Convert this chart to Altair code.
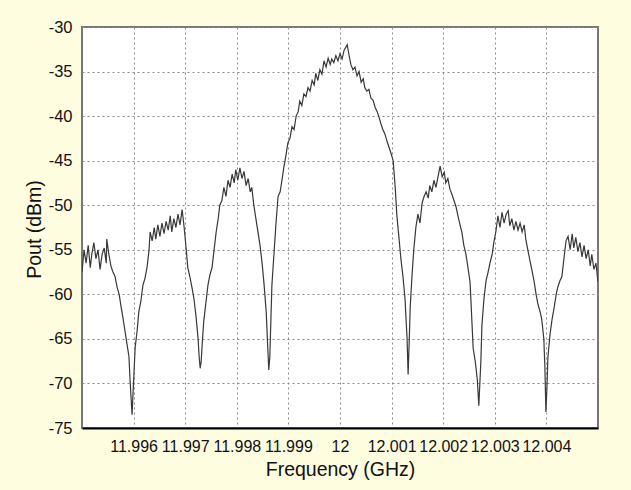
import altair as alt
import pandas as pd

# Frequency (GHz) and output power (dBm)
freq_ghz = [
    11.99500, 11.99504, 11.99508, 11.99512, 11.99516, 11.99519, 11.99523, 11.99527, 11.99531, 11.99535,
    11.99539, 11.99543, 11.99547, 11.99548, 11.99552, 11.99556, 11.99560, 11.99564, 11.99568, 11.99572,
    11.99576, 11.99579, 11.99583, 11.99587, 11.99591, 11.99593, 11.99595, 11.99597, 11.99599, 11.99601,
    11.99603, 11.99607, 11.99610, 11.99614, 11.99618, 11.99622, 11.99626, 11.99630, 11.99632, 11.99636,
    11.99640, 11.99643, 11.99647, 11.99651, 11.99655, 11.99659, 11.99663, 11.99667, 11.99671, 11.99674,
    11.99678, 11.99682, 11.99686, 11.99690, 11.99694, 11.99698, 11.99702, 11.99705, 11.99709, 11.99713,
    11.99717, 11.99721, 11.99725, 11.99727, 11.99729, 11.99731, 11.99733, 11.99736, 11.99740, 11.99744,
    11.99748, 11.99752, 11.99756, 11.99760, 11.99764, 11.99767, 11.99771, 11.99775, 11.99779, 11.99783,
    11.99787, 11.99791, 11.99795, 11.99798, 11.99802, 11.99806, 11.99810, 11.99814, 11.99818, 11.99822,
    11.99826, 11.99829, 11.99833, 11.99837, 11.99841, 11.99845, 11.99849, 11.99853, 11.99857, 11.99860,
    11.99862, 11.99864, 11.99866, 11.99868, 11.99872, 11.99876, 11.99880, 11.99884, 11.99888, 11.99891,
    11.99895, 11.99899, 11.99903, 11.99907, 11.99911, 11.99915, 11.99919, 11.99922, 11.99926, 11.99930,
    11.99934, 11.99938, 11.99942, 11.99946, 11.99950, 11.99953, 11.99957, 11.99961, 11.99965, 11.99969,
    11.99973, 11.99977, 11.99981, 11.99984, 11.99988, 11.99992, 11.99996, 12.00000, 12.00004, 12.00008,
    12.00012, 12.00014, 12.00017, 12.00021, 12.00025, 12.00029, 12.00033, 12.00037, 12.00041, 12.00045,
    12.00048, 12.00052, 12.00056, 12.00060, 12.00064, 12.00068, 12.00072, 12.00076, 12.00079, 12.00083,
    12.00087, 12.00091, 12.00095, 12.00099, 12.00103, 12.00107, 12.00110, 12.00114, 12.00118, 12.00122,
    12.00126, 12.00130, 12.00132, 12.00134, 12.00136, 12.00140, 12.00143, 12.00147, 12.00151, 12.00155,
    12.00159, 12.00163, 12.00167, 12.00171, 12.00174, 12.00178, 12.00182, 12.00186, 12.00190, 12.00194,
    12.00198, 12.00202, 12.00205, 12.00209, 12.00213, 12.00217, 12.00221, 12.00225, 12.00229, 12.00233,
    12.00236, 12.00240, 12.00244, 12.00248, 12.00252, 12.00254, 12.00256, 12.00258, 12.00262, 12.00266,
    12.00269, 12.00271, 12.00273, 12.00275, 12.00279, 12.00283, 12.00287, 12.00291, 12.00295, 12.00298,
    12.00302, 12.00306, 12.00310, 12.00314, 12.00318, 12.00322, 12.00326, 12.00329, 12.00333, 12.00337,
    12.00341, 12.00345, 12.00349, 12.00353, 12.00357, 12.00360, 12.00364, 12.00368, 12.00372, 12.00376,
    12.00380, 12.00384, 12.00388, 12.00391, 12.00395, 12.00397, 12.00399, 12.00401, 12.00403, 12.00407,
    12.00411, 12.00415, 12.00419, 12.00422, 12.00426, 12.00430, 12.00434, 12.00438, 12.00442, 12.00446,
    12.00450, 12.00453, 12.00457, 12.00461, 12.00465, 12.00469, 12.00473, 12.00477, 12.00481, 12.00485,
    12.00488, 12.00492, 12.00496, 12.00500,
]

pout_dbm = [
    -57.5, -55.0, -56.5, -54.5, -57.0, -55.5, -54.2, -56.0, -55.0, -57.2,
    -55.5, -54.8, -56.5, -53.8, -55.5, -56.8, -57.5, -58.0, -59.2, -60.0,
    -61.5, -62.5, -64.0, -65.5, -67.0, -69.5, -71.5, -73.5, -71.0, -68.5,
    -66.0, -64.0, -62.0, -60.8, -59.0, -58.2, -57.0, -55.0, -53.0, -54.0,
    -52.5, -53.8, -52.2, -53.5, -52.0, -53.2, -51.8, -52.8, -51.2, -53.0,
    -51.5, -52.5, -51.0, -52.2, -50.5, -52.5, -55.0, -57.0, -58.0, -59.2,
    -60.5, -62.5, -65.0, -67.0, -68.3, -67.5, -65.5, -63.0, -61.0, -59.0,
    -57.8, -57.0, -55.0, -53.0, -51.5, -50.0, -49.5, -48.0, -49.0, -47.2,
    -48.0, -46.5, -47.5, -46.0, -47.2, -45.8, -47.0, -46.2, -47.8, -47.0,
    -48.5, -48.0, -50.0, -51.5, -53.0, -54.5, -56.5, -59.0, -62.0, -66.0,
    -68.5, -67.0, -63.0, -59.0, -55.5, -52.0, -49.0, -48.5, -47.0, -45.8,
    -44.5, -43.0, -42.5, -41.2, -41.5, -40.0, -39.5, -38.3, -38.8, -37.5,
    -37.8, -36.8, -37.2, -36.0, -36.5, -35.2, -36.0, -34.8, -35.3, -33.8,
    -34.5, -33.5, -34.2, -33.6, -34.0, -33.2, -33.8, -33.0, -33.6, -32.6,
    -32.2, -32.0, -33.0, -34.2, -34.8, -34.5, -35.5, -35.0, -36.2, -35.8,
    -36.8, -37.2, -37.0, -38.0, -38.2, -39.0, -39.5, -40.2, -40.8, -41.5,
    -42.0, -42.8, -43.5, -44.2, -45.0, -48.0, -51.0, -53.5, -56.0, -58.0,
    -60.5, -65.0, -69.0, -65.5, -61.5, -57.5, -55.0, -52.5, -51.0, -52.0,
    -49.8, -49.0, -48.5, -49.2, -47.8, -48.5, -47.2, -48.0, -46.8, -45.6,
    -46.8, -46.3, -47.5, -47.0, -48.2, -48.8, -49.5, -50.2, -51.3, -52.3,
    -53.0, -54.5, -55.5, -57.0, -58.6, -61.0, -63.5, -66.0, -67.5, -69.5,
    -72.5, -70.0, -67.5, -63.5, -60.5, -58.5, -57.5, -56.4, -55.5, -54.2,
    -53.0, -51.2, -52.5, -50.8, -52.0, -51.0, -50.6, -52.3, -51.5, -52.8,
    -51.8, -52.8, -52.0, -53.0, -52.2, -53.8, -55.0, -56.2, -57.3, -58.5,
    -60.0, -61.2, -62.0, -62.8, -65.0, -68.0, -73.2, -70.5, -67.0, -64.5,
    -62.8, -61.5, -60.0, -59.2, -58.5, -58.0, -56.0, -54.0, -53.5, -55.0,
    -53.2, -54.8, -53.6, -55.2, -54.2, -55.8, -54.5, -56.0, -55.0, -56.8,
    -55.5, -57.2, -56.5, -58.6,
]

x_ticks = [11.996, 11.997, 11.998, 11.999, 12.0, 12.001, 12.002, 12.003, 12.004]
y_ticks = [-75, -70, -65, -60, -55, -50, -45, -40, -35, -30]

df = pd.DataFrame({"freq": freq_ghz, "pout": pout_dbm})

FONT = "Liberation Sans"

line = alt.Chart(df).mark_line(color="#383838", strokeWidth=1.2, clip=True).encode(
    x=alt.X(
        "freq:Q",
        scale=alt.Scale(domain=[11.995, 12.005], nice=False, zero=False),
        axis=alt.Axis(
            values=x_ticks,
            labelExpr="format(datum.value, '.3~f')",
            title="Frequency (GHz)",
            grid=True,
            gridColor="#8a8a8a",
            gridDash=[2, 3],
            gridWidth=1,
            ticks=False,
            tickSize=0,
            domainColor="#000000",
            domainWidth=2,
            labelFont=FONT,
            labelFontSize=16,
            labelColor="#111111",
            labelBaseline="alphabetic",
            labelPadding=23,
            titleFont=FONT,
            titleFontSize=19.5,
            titleFontWeight="normal",
            titleColor="#111111",
            titleBaseline="alphabetic",
            titleY=47,
        ),
    ),
    y=alt.Y(
        "pout:Q",
        scale=alt.Scale(domain=[-75, -30], nice=False, zero=False),
        axis=alt.Axis(
            values=y_ticks,
            labelExpr="'' + datum.value",
            title="Pout (dBm)",
            grid=True,
            gridColor="#8a8a8a",
            gridDash=[2, 3],
            gridWidth=1,
            ticks=False,
            tickSize=0,
            domain=False,
            labelFont=FONT,
            labelFontSize=16.5,
            labelColor="#111111",
            labelPadding=10,
            titleFont=FONT,
            titleFontSize=19.5,
            titleFontWeight="normal",
            titleColor="#111111",
            titleBaseline="middle",
            titleX=-48,
            titleY=202,
        ),
    ),
)

chart = line.properties(
    width=516,
    height=401,
    padding={"left": 82, "top": 27, "right": 33, "bottom": 62},
    autosize=alt.AutoSizeParams(type="none"),
    background="#FFFDE0",
).configure_view(
    fill="#FFFFFF",
    stroke="#777777",
    strokeWidth=2,
)

chart.save("out.html", embed_options={"renderer": "svg", "actions": False})
